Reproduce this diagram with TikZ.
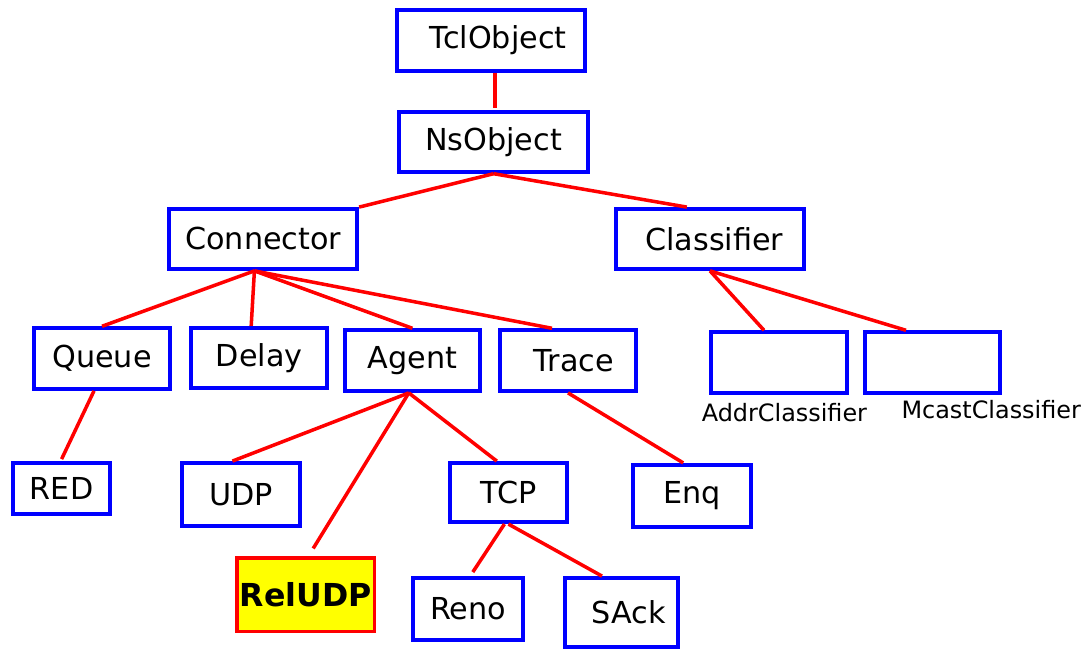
\documentclass[tikz,border=0pt]{standalone}
\usepackage{fontspec}
\setmainfont{DejaVu Sans}
\usepackage{xcolor}
\usepackage{tikz}
\definecolor{NSBlue}{HTML}{0000FF}
\definecolor{NSRed}{HTML}{FF0000}
\definecolor{NSYellow}{HTML}{FFFF00}
\tikzset{
  classbox/.style 2 args={draw=NSBlue,line width=2.7pt,minimum width=#1cm,minimum height=#2cm,inner sep=0pt,font=\fontsize{21.5}{26}\selectfont},
  link/.style={draw=NSRed,line width=2.5pt},
  sublabel/.style={font=\fontsize{17}{20}\selectfont,inner sep=0pt}
}

\begin{document}
\begin{tikzpicture}[x=1cm,y=1cm]
\path[use as bounding box] (0,0) rectangle (27.25,16.225);
\fill[white] (0,0) rectangle (27.25,16.225);
% top of the tree
\node[classbox={4.70}{1.52}] (tcl) at (12.28,15.21) {\hspace*{0.35cm}TclObject};
\node[classbox={4.72}{1.50}] (ns) at (12.34,12.68) {NsObject};
\node[classbox={4.70}{1.50}] (conn) at (6.58,10.25) {Connector};
\node[classbox={4.70}{1.50}] (cls) at (17.75,10.25) {\hspace*{0.22cm}Classifier};
% second level
\node[classbox={3.40}{1.52}] (queue) at (2.55,7.26) {Queue};
\node[classbox={3.40}{1.50}] (delay) at (6.48,7.28) {Delay};
\node[classbox={3.38}{1.52}] (agent) at (10.31,7.21) {Agent};
\node[classbox={3.40}{1.52}] (trace) at (14.20,7.21) {\hspace*{0.3cm}Trace};
\node[classbox={3.40}{1.52}] (addr) at (19.48,7.16) {};
\node[classbox={3.38}{1.52}] (mcast) at (23.31,7.16) {};
\node[sublabel] (addrlabel) at (19.61,5.90) {AddrClassifier};
\node[sublabel] (mcastlabel) at (24.78,5.98) {McastClassifier};
% leaves
\node[classbox={2.43}{1.28}] (red) at (1.54,4.01) {RED};
\node[classbox={2.95}{1.58}] (udp) at (6.03,3.86) {UDP};
\node[classbox={2.93}{1.48}] (tcp) at (12.71,3.91) {TCP};
\node[classbox={2.95}{1.55}] (enq) at (17.30,3.83) {Enq};
\node[classbox={3.43}{1.83},draw=NSRed,line width=2.2pt,fill=NSYellow,font=\fontsize{22.5}{27}\selectfont\bfseries] (reludp) at (7.64,1.36) {RelUDP};
\node[classbox={2.75}{1.55}] (reno) at (11.70,1.00) {Reno};
\node[classbox={2.83}{1.73}] (sack) at (15.54,0.91) {\hspace*{0.35cm}SAck};
% links
\coordinate (connfoot) at ([xshift=-0.22cm]conn.south);
\draw[link] ([xshift=0.1cm]tcl.south) -- ([xshift=0.1cm,yshift=0.05cm]tcl.south |- ns.north);
\draw[link] (ns.south) -- (conn.north east);
\draw[link] (ns.south) -- ([xshift=-0.58cm]cls.north);
\draw[link] (connfoot) -- (queue.north);
\draw[link] (connfoot) -- ([xshift=-0.2cm]delay.north);
\draw[link] (connfoot) -- (agent.north);
\draw[link] (connfoot) -- ([xshift=-0.4cm]trace.north);
\draw[link] (cls.south) -- ([xshift=-0.38cm]addr.north);
\draw[link] (cls.south) -- ([xshift=-0.66cm]mcast.north);
\draw[link] ([xshift=-0.2cm]queue.south) -- ([yshift=0.05cm]red.north);
\draw[link] ([xshift=-0.09cm]agent.south) -- ([xshift=-0.22cm]udp.north);
\draw[link] ([xshift=-0.09cm]agent.south) -- ([xshift=0.19cm,yshift=0.2cm]reludp.north);
\draw[link] ([xshift=-0.09cm]agent.south) -- ([xshift=-0.29cm]tcp.north);
\draw[link] (trace.south) -- ([xshift=-0.22cm]enq.north);
\draw[link] ([xshift=-0.1cm]tcp.south) -- ([xshift=0.12cm,yshift=0.1cm]reno.north);
\draw[link] (tcp.south) -- ([xshift=-0.49cm]sack.north);
\end{tikzpicture}
\end{document}
